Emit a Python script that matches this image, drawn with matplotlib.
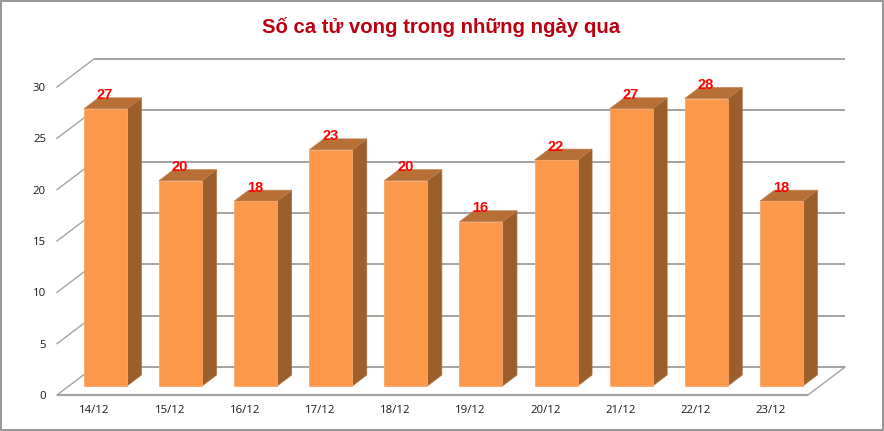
import matplotlib
matplotlib.use("Agg")
import matplotlib.pyplot as plt
from matplotlib.patches import Polygon, Rectangle
from matplotlib.transforms import ScaledTranslation

dates = ["14/12", "15/12", "16/12", "17/12", "18/12", "19/12", "20/12", "21/12", "22/12", "23/12"]
deaths = [27, 20, 18, 23, 20, 16, 22, 27, 28, 18]
y_ticks = [0, 5, 10, 15, 20, 25, 30]
title = "Số ca tử vong trong những ngày qua"

W, H = 884, 431
DPI = 100
fig = plt.figure(figsize=((W + 0.01) / DPI, (H + 0.01) / DPI), dpi=DPI, facecolor="white")
fig.add_artist(Rectangle((0.5 / W, 0.5 / H), (W - 1.5) / W, (H - 1.5) / H, transform=fig.transFigure,
                         fill=False, ec="#8e8e8e", lw=1.3))

L, R, B, T = 57, 808, 395, 87
ax = fig.add_axes([L / W, 1 - B / H, (R - L) / W, (B - T) / H])
ax.set_xlim(-0.5, len(dates) - 0.5)
ax.set_ylim(0, 30)
ax.axis("off")


def shifted(px, py):
    return ax.transData + ScaledTranslation(px / DPI, py / DPI, fig.dpi_scale_trans)


GRID = "#a3a3a3"
back = shifted(37, 28)
x0, x1 = ax.get_xlim()
for v in y_ticks:
    ax.plot([x0, x1], [v, v], transform=back, color=GRID, lw=1.4, zorder=1, clip_on=False,
            solid_capstyle="butt")
    wall = (x0 + 37 / 75.1, v + 28 / 10.267)
    ax.plot([x0, wall[0]], [v, wall[1]], color=GRID, lw=1.0, zorder=1, clip_on=False)
# floor: front edge and right edge
ax.plot([x0, x1], [0, 0], color=GRID, lw=1.6, zorder=1, clip_on=False, solid_capstyle="butt")
ax.plot([x1, x1 + 37 / 75.1], [0, 28 / 10.267], color=GRID, lw=1.0, zorder=1, clip_on=False)

# bars
bw = 43 / 75.1
front = shifted(10.9, 9)
ddx, ddy = 14.5 / 75.1, 11 / 10.267
for i, v in enumerate(deaths):
    xl, xr = i - bw / 2, i + bw / 2
    ax.add_patch(Polygon([(xr, 0), (xr + ddx, ddy), (xr + ddx, v + ddy), (xr, v)], closed=True,
                         transform=front, fc="#9c5f2c", ec="#a8703f", lw=0.5, zorder=3, clip_on=False))
    ax.add_patch(Polygon([(xl, v), (xr, v), (xr + ddx, v + ddy), (xl + ddx, v + ddy)], closed=True,
                         transform=front, fc="#b86f35", ec="#bf8050", lw=0.5, zorder=3, clip_on=False))
    ax.bar(i, v, width=bw, transform=front, color="#fb984a", edgecolor="#fba669", linewidth=0.6,
           zorder=4, clip_on=False)
    ax.text(i, v, str(v), transform=shifted(10.4, 22.5), ha="center", va="center", color="#ff0000",
            fontsize=10.5, fontweight="bold", family="Liberation Sans", zorder=6, clip_on=False)

# tick labels
for v in y_ticks:
    ax.text(x0, v, str(v), transform=shifted(-11, -1.5), ha="right", va="center", color="#1a1a1a",
            fontsize=8.2, family="Open Sans", clip_on=False)
for i, d in enumerate(dates):
    ax.text(i, 0, d, transform=shifted(0, -15.5), ha="center", va="center", color="#1a1a1a",
            fontsize=8.2, family="Open Sans", clip_on=False)

fig.text(441 / W, 1 - 27 / H, title, ha="center", va="center", color="#bc0010", fontsize=14.7,
         fontweight="bold", family="Liberation Sans")

fig.savefig("out.png", dpi=DPI)
